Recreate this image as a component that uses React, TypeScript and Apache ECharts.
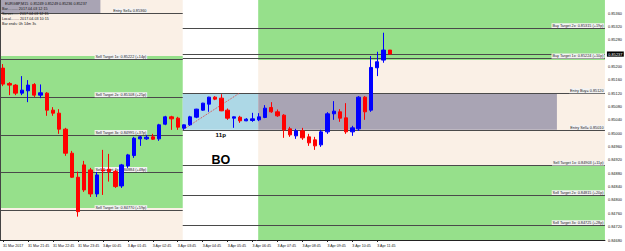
import React, { useEffect, useRef } from 'react';
import * as echarts from 'echarts';

// ---------- data ----------
const tickLabels = [
  '31 Mar 2017', '31 Mar 21:45', '31 Mar 22:45', '31 Mar 23:45',
  '3 Apr 00:45', '3 Apr 01:45', '3 Apr 02:45', '3 Apr 03:45',
  '3 Apr 04:45', '3 Apr 05:45', '3 Apr 06:45', '3 Apr 07:45',
  '3 Apr 08:45', '3 Apr 09:45', '3 Apr 10:45', '3 Apr 11:45',
];
const TICK_EVERY = 4;
const SLOT_COUNT = 97; // 63 bars + chart shift

const barOpen = [
  0.85195, 0.85149, 0.85144, 0.85120, 0.85127, 0.85146, 0.85114, 0.85120, 0.85069, 0.85060,
  0.85012, 0.84940, 0.84868, 0.84905, 0.84890, 0.84818, 0.84890, 0.84892, 0.84885, 0.84842,
  0.84902, 0.84933, 0.84983, 0.84983, 0.84989, 0.84983, 0.85027, 0.85049, 0.85045, 0.85015,
  0.85025, 0.85048, 0.85069, 0.85087, 0.85108, 0.85105, 0.85069, 0.85045, 0.85048, 0.85037,
  0.85038, 0.85040, 0.85047, 0.85077, 0.85064, 0.85054, 0.85013, 0.84992, 0.85007, 0.84989,
  0.84980, 0.84965, 0.85004, 0.85058, 0.85064, 0.85046, 0.85004, 0.85013, 0.85108, 0.85069,
  0.85196, 0.85219, 0.85249,
];
const barClose = [
  0.85147, 0.85144, 0.85120, 0.85129, 0.85144, 0.85114, 0.85121, 0.85069, 0.85060, 0.85012,
  0.84940, 0.84868, 0.84765, 0.84830, 0.84818, 0.84875, 0.84887, 0.84885, 0.84840, 0.84905,
  0.84935, 0.84985, 0.84989, 0.84988, 0.84982, 0.85025, 0.85049, 0.85043, 0.85018, 0.85025,
  0.85049, 0.85072, 0.85090, 0.85108, 0.85102, 0.85067, 0.85045, 0.85049, 0.85037, 0.85042,
  0.85043, 0.85049, 0.85075, 0.85064, 0.85052, 0.85010, 0.84995, 0.85007, 0.84986, 0.84971,
  0.84962, 0.85004, 0.85058, 0.85066, 0.85045, 0.85004, 0.85016, 0.85108, 0.85064, 0.85197,
  0.85214, 0.85249, 0.85237,
];
const barLow = [
  0.85141, 0.85114, 0.85114, 0.85114, 0.85093, 0.85108, 0.85105, 0.85052, 0.85052, 0.84998,
  0.84932, 0.84866, 0.84750, 0.84824, 0.84809, 0.84809, 0.84815, 0.84855, 0.84836, 0.84836,
  0.84896, 0.84926, 0.84962, 0.84980, 0.84980, 0.84977, 0.85024, 0.85010, 0.85010, 0.85010,
  0.85022, 0.85045, 0.85067, 0.85064, 0.85099, 0.85066, 0.85040, 0.85016, 0.85031, 0.85036,
  0.85034, 0.85036, 0.85045, 0.85061, 0.85049, 0.84986, 0.84989, 0.84983, 0.84980, 0.84962,
  0.84950, 0.84959, 0.84998, 0.85040, 0.85034, 0.84998, 0.84992, 0.85007, 0.85040, 0.85064,
  0.85171, 0.85211, 0.85236,
];
const barHigh = [
  0.85207, 0.85153, 0.85147, 0.85171, 0.85159, 0.85150, 0.85146, 0.85123, 0.85078, 0.85072,
  0.85016, 0.84947, 0.84885, 0.84917, 0.84896, 0.84884, 0.84950, 0.84938, 0.84890, 0.84908,
  0.84938, 0.84989, 0.84992, 0.84995, 0.84998, 0.85028, 0.85052, 0.85052, 0.85049, 0.85026,
  0.85052, 0.85073, 0.85091, 0.85109, 0.85111, 0.85117, 0.85074, 0.85050, 0.85052, 0.85045,
  0.85061, 0.85060, 0.85084, 0.85093, 0.85071, 0.85057, 0.85019, 0.85013, 0.85016, 0.84998,
  0.84989, 0.85010, 0.85063, 0.85096, 0.85072, 0.85090, 0.85022, 0.85111, 0.85111, 0.85231,
  0.85244, 0.85301, 0.85249,
];

const Y_MIN = 0.8468;
const Y_MAX = 0.85399;
const Y_STEP = 0.0004;

// time positions in bar units
const T_START = -0.5;
const T_END = 96.5;
const T_PREV_BOX_END = 15.6;
const T_BOX_START = 28.8;
const T_BOX_END = 40.9;
const T_GRAY_END = 88.8;
const T_TREND_END = 37.9;
const T_LEFT_LABEL = 23.1;
const T_RIGHT_LABEL = 96.4;
const T_NOTE = 34.9;

const leftLevels = [
  { text: 'Entry Sell= 0.85360', price: 0.8536 },
  { text: 'Sell Target 1x: 0.85222 (+14p)', price: 0.85222 },
  { text: 'Sell Target 2x: 0.85108 (+25p)', price: 0.85108 },
  { text: 'Sell Target 3x: 0.84995 (+37p)', price: 0.84995 },
  { text: 'Sell Target 4x: 0.84884 (+48p)', price: 0.84884 },
  { text: 'Sell Target 5x: 0.84770 (+59p)', price: 0.8477 },
];
const rightLevels = [
  { text: 'Buy Target 2x: 0.85315 (+19p)', price: 0.85315 },
  { text: 'Buy Target 1x: 0.85224 (+10p)', price: 0.85224 },
  { text: 'Entry Buy= 0.85120', price: 0.8512 },
  { text: 'Entry Sell= 0.85010', price: 0.8501 },
  { text: 'Sell Target 1x: 0.84903 (+11p)', price: 0.84903 },
  { text: 'Sell Target 2x: 0.84815 (+20p)', price: 0.84815 },
  { text: 'Sell Target 3x: 0.84725 (+28p)', price: 0.84725 },
];

// [kind, t0, t1, topPrice, bottomPrice]
const zones: [string, number, number, number, number][] = [
  ['beige', T_START, T_BOX_START, Y_MAX, 0.85231],
  ['gray', T_START, T_PREV_BOX_END, Y_MAX, 0.8536],
  ['green', T_START, T_BOX_START, 0.85231, 0.84776],
  ['beige', T_START, T_BOX_START, 0.84776, Y_MIN],
  ['blue', T_BOX_START, T_BOX_END, 0.8512, 0.8501],
  ['green', T_BOX_END, T_END, Y_MAX, 0.85219],
  ['beige', T_BOX_END, T_END, 0.85219, 0.84903],
  ['gray', T_BOX_END, T_GRAY_END, 0.8512, 0.8501],
  ['green', T_BOX_END, T_END, 0.84903, Y_MIN],
];

const notes = [
  { text: '11p', t: T_NOTE, price: 0.84995, big: false },
  { text: 'BO', t: T_NOTE, price: 0.8492, big: true },
];

const infoLines = [
  'EURGBP,M15  0.85249 0.85249 0.85236 0.85237',
  'Bar.......... 2017.04.03 12:15',
  'Server...... 2017.04.03 12:15',
  'Local........ 2017.04.03 10:15',
  'Bar ends: 0h 14m 3s',
];

// ---------- styles ----------
const FONT = '"Liberation Sans", Arial, sans-serif';
const ZONE_COLORS: Record<string, string> = {
  green: '#96E08B',
  beige: '#FAF0E6',
  gray: '#A9A4B4',
  blue: '#ADD8E6',
};
const LINE_COLOR = '#4A4A4A';

export default function App() {
  const ref = useRef<HTMLDivElement>(null);

  useEffect(() => {
    if (!ref.current) return;
    const chart = echarts.init(ref.current, null, { renderer: 'svg' });
    const slotKeys = Array.from({ length: SLOT_COUNT }, (_, i) => 'slot' + i);
    const bid = barClose[barClose.length - 1];
    const showTick = (i: number) => i % TICK_EVERY === 0 && i / TICK_EVERY < tickLabels.length;

    const labelStyle = {
      show: true,
      position: [0.5, 0.5],
      align: 'right',
      verticalAlign: 'bottom',
      formatter: '{b}',
      fontSize: 3.8,
      lineHeight: 4.4,
      color: '#222',
      backgroundColor: '#F3F3F3',
      padding: [0.3, 0.8, 0.1, 0.8],
      fontFamily: FONT,
    };

    const option: any = {
      animation: false,
      textStyle: { fontFamily: FONT },
      grid: { left: -1, right: 18, top: 0, bottom: 11, containLabel: false },
      xAxis: [
        {
          type: 'category',
          data: slotKeys,
          boundaryGap: true,
          axisLine: { show: true, lineStyle: { color: '#222', width: 1 } },
          axisTick: {
            show: true,
            interval: (i: number) => showTick(i),
            alignWithLabel: true,
            length: 2,
            lineStyle: { color: '#222' },
          },
          axisLabel: {
            interval: (i: number) => showTick(i),
            formatter: (_v: string, i: number) => tickLabels[i / TICK_EVERY] ?? '',
            align: 'left',
            fontSize: 3.6,
            color: '#111',
            margin: 4,
          },
          splitLine: { show: false },
        },
        { type: 'value', min: T_START, max: T_END, show: false },
      ],
      yAxis: {
        type: 'value',
        position: 'right',
        min: Y_MIN,
        max: Y_MAX,
        interval: Y_STEP,
        axisLine: { show: true, lineStyle: { color: '#222', width: 1 } },
        axisTick: { show: true, length: 2, lineStyle: { color: '#222' } },
        axisLabel: {
          formatter: (v: number) => v.toFixed(5),
          fontSize: 3.9,
          color: '#111',
          margin: 3,
          showMaxLabel: false,
        },
        splitLine: { show: false },
      },
      series: [
        {
          type: 'line',
          xAxisIndex: 1,
          yAxisIndex: 0,
          data: [],
          z: 1,
          silent: true,
          markArea: {
            silent: true,
            data: zones.map((zn) => [
              { xAxis: zn[1], yAxis: zn[3], itemStyle: { color: ZONE_COLORS[zn[0]], opacity: 1 } },
              { xAxis: zn[2], yAxis: zn[4] },
            ]),
          },
        },
        {
          type: 'line',
          xAxisIndex: 1,
          yAxisIndex: 0,
          data: [],
          z: 2,
          silent: true,
          markLine: {
            silent: true,
            symbol: ['none', 'none'],
            label: { show: false },
            lineStyle: { color: LINE_COLOR, width: 1, type: 'solid' },
            data: [
              ...leftLevels.map((l) => [
                { coord: [T_START, l.price] },
                { coord: [T_BOX_START, l.price] },
              ]),
              ...rightLevels.map((l) => [
                { coord: [T_BOX_START, l.price] },
                { coord: [T_END, l.price] },
              ]),
              [
                { coord: [T_BOX_START, 0.8501], lineStyle: { color: '#E04848', width: 1, type: 'dotted' } },
                { coord: [T_TREND_END, 0.8512] },
              ],
            ],
          },
        },
        {
          type: 'line',
          xAxisIndex: 1,
          yAxisIndex: 0,
          data: [],
          z: 3,
          silent: true,
          markPoint: {
            silent: true,
            symbol: 'rect',
            symbolSize: 1,
            itemStyle: { color: 'rgba(0,0,0,0)' },
            label: labelStyle,
            data: [
              ...leftLevels.map((l) => ({ name: l.text, coord: [T_LEFT_LABEL, l.price] })),
              ...rightLevels.map((l) => ({ name: l.text, coord: [T_RIGHT_LABEL, l.price] })),
              ...notes.map((n) => ({
                name: n.text,
                coord: [n.t, n.price],
                label: {
                  show: true,
                  position: 'inside',
                  align: 'center',
                  verticalAlign: 'middle',
                  formatter: '{b}',
                  fontSize: n.big ? 12.5 : 6.2,
                  fontWeight: 'bold',
                  color: '#000',
                  backgroundColor: 'transparent',
                  padding: 0,
                  fontFamily: FONT,
                },
              })),
            ],
          },
        },
        {
          type: 'candlestick',
          xAxisIndex: 0,
          yAxisIndex: 0,
          z: 5,
          silent: true,
          barWidth: 3.8,
          data: barOpen.map((o, i) => [o, barClose[i], barLow[i], barHigh[i]]),
          itemStyle: {
            color: '#0000FF',
            color0: '#FF0000',
            borderColor: '#0000FF',
            borderColor0: '#FF0000',
            borderWidth: 1,
          },
        },
        {
          type: 'line',
          xAxisIndex: 1,
          yAxisIndex: 0,
          data: [],
          z: 6,
          silent: true,
          markLine: {
            silent: true,
            symbol: ['none', 'none'],
            lineStyle: { color: LINE_COLOR, width: 1, type: 'solid' },
            label: {
              show: true,
              position: 'end',
              formatter: bid.toFixed(5),
              backgroundColor: '#000',
              color: '#fff',
              fontSize: 3.9,
              padding: [0.6, 1.4],
              distance: 2,
            },
            data: [[{ coord: [T_BOX_START, bid] }, { coord: [T_END, bid] }]],
          },
        },
      ],
      graphic: [
        {
          type: 'line',
          shape: { x1: 0.5, y1: 0, x2: 0.5, y2: 240 },
          style: { stroke: '#444', lineWidth: 1 },
          z: 100,
        },
        ...infoLines.map((t, i) => ({
          type: 'text',
          left: i === 0 ? 5 : 2,
          top: 2 + i * 5,
          z: 100,
          style: { text: t, fontSize: 3.7, fill: '#111', fontFamily: FONT },
        })),
      ],
    };

    chart.setOption(option);
    return () => chart.dispose();
  }, []);

  return (
    <div
      ref={ref}
      style={{ position: 'fixed', left: 0, top: 0, width: 625, height: 251, background: '#fff' }}
    />
  );
}
